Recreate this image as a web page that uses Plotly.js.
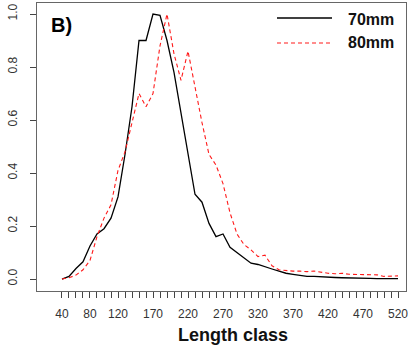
<!DOCTYPE html>
<html>
<head>
<meta charset="utf-8">
<script src="https://cdn.plot.ly/plotly-3.0.1.min.js"></script>
<style>html,body{margin:0;padding:0;background:#fff;}#chart{width:408px;height:346px;}</style>
</head>
<body>
<div id="chart"></div>
<script>
// Length classes (mm)
var lengthClass = [40,50,60,70,80,90,100,110,120,130,140,150,160,170,180,190,200,210,220,230,240,250,260,270,280,290,300,310,320,330,340,350,360,370,380,390,400,410,420,430,440,450,460,470,480,490,500,510,520];
// 70mm series (relative frequency)
var mesh70 = [0,0.01,0.04,0.065,0.125,0.17,0.19,0.23,0.31,0.47,0.65,0.90,0.90,1.0,0.995,0.90,0.78,0.63,0.47,0.32,0.29,0.21,0.16,0.17,0.12,0.10,0.08,0.06,0.055,0.045,0.038,0.03,0.022,0.018,0.015,0.01,0.01,0.008,0.007,0.006,0.005,0.005,0.004,0.003,0.003,0.002,0.002,0.002,0.002];
// 80mm series (relative frequency)
var mesh80 = [0,0.005,0.015,0.035,0.07,0.16,0.23,0.28,0.41,0.48,0.59,0.70,0.65,0.70,0.88,1.0,0.85,0.75,0.86,0.72,0.59,0.47,0.43,0.36,0.25,0.17,0.13,0.11,0.085,0.09,0.05,0.035,0.032,0.03,0.03,0.028,0.03,0.025,0.022,0.02,0.022,0.018,0.017,0.018,0.015,0.016,0.01,0.01,0.012];
// Tick labels shown on the x axis
var xLabels = [40,80,120,170,220,270,320,370,420,470,520];
var yTicks = [0,0.2,0.4,0.6,0.8,1.0];
var seriesNames = ["70mm","80mm"];

var tickText = lengthClass.map(function(v){ return xLabels.indexOf(v) >= 0 ? String(v) : ""; });

var traces = [
  {x: lengthClass, y: mesh70, type: "scatter", mode: "lines", name: seriesNames[0],
   line: {color: "#000000", width: 1.3}},
  {x: lengthClass, y: mesh80, type: "scatter", mode: "lines", name: seriesNames[1],
   line: {color: "#ff1a1a", width: 1.1, dash: "4px,3px"}}
];

function px2x(p){ return (p - 37) / 369; }
function py2y(p){ return (291 - p) / 288; }

var layout = {
  width: 408, height: 346,
  margin: {l: 37, r: 2, t: 3, b: 55, pad: 0},
  paper_bgcolor: "#ffffff", plot_bgcolor: "#ffffff",
  showlegend: false,
  font: {family: "Liberation Sans, Arial, sans-serif", color: "#333333", size: 12},
  xaxis: {
    range: [4.3, 531.4], tickvals: lengthClass, ticktext: tickText,
    ticks: "outside", ticklen: 6, tickwidth: 1, tickcolor: "#444",
    showline: true, mirror: true, linecolor: "#666", linewidth: 1.2,
    showgrid: false, zeroline: false, tickangle: 0,
    tickfont: {size: 12, color: "#333"}, ticklabelstandoff: 5,
    ticklabeloverflow: "allow"
  },
  yaxis: {
    range: [-0.045, 1.0415], tickvals: yTicks, tickformat: ".1f",
    ticks: "outside", ticklen: 6, tickwidth: 1, tickcolor: "#444",
    showline: true, mirror: true, linecolor: "#666", linewidth: 1.2,
    showgrid: false, zeroline: false, tickangle: -90,
    tickfont: {size: 12, color: "#333"}, ticklabelstandoff: 8
  },
  shapes: [
    {type: "line", xref: "paper", yref: "paper", x0: px2x(277), x1: px2x(332), y0: py2y(18), y1: py2y(18),
     line: {color: "#000", width: 1.3}},
    {type: "line", xref: "paper", yref: "paper", x0: px2x(277), x1: px2x(332), y0: py2y(43), y1: py2y(43),
     line: {color: "#ff1a1a", width: 1.1, dash: "4px,3px"}}
  ],
  annotations: [
    {text: "<b>B)</b>", xref: "paper", yref: "paper", x: px2x(49), y: py2y(25), xanchor: "left", yanchor: "middle",
     showarrow: false, font: {size: 20, color: "#000"}},
    {text: "<b>" + seriesNames[0] + "</b>", xref: "paper", yref: "paper", x: px2x(346), y: py2y(19), xanchor: "left", yanchor: "middle",
     showarrow: false, font: {size: 16, color: "#111"}},
    {text: "<b>" + seriesNames[1] + "</b>", xref: "paper", yref: "paper", x: px2x(346), y: py2y(43), xanchor: "left", yanchor: "middle",
     showarrow: false, font: {size: 16, color: "#111"}},
    {text: "<b>Length class</b>", xref: "paper", yref: "paper", x: px2x(233.5), y: py2y(335), xanchor: "center", yanchor: "middle",
     showarrow: false, font: {size: 18, color: "#111"}}
  ]
};

Plotly.newPlot("chart", traces, layout, {displayModeBar: false, staticPlot: true});
</script>
</body>
</html>
